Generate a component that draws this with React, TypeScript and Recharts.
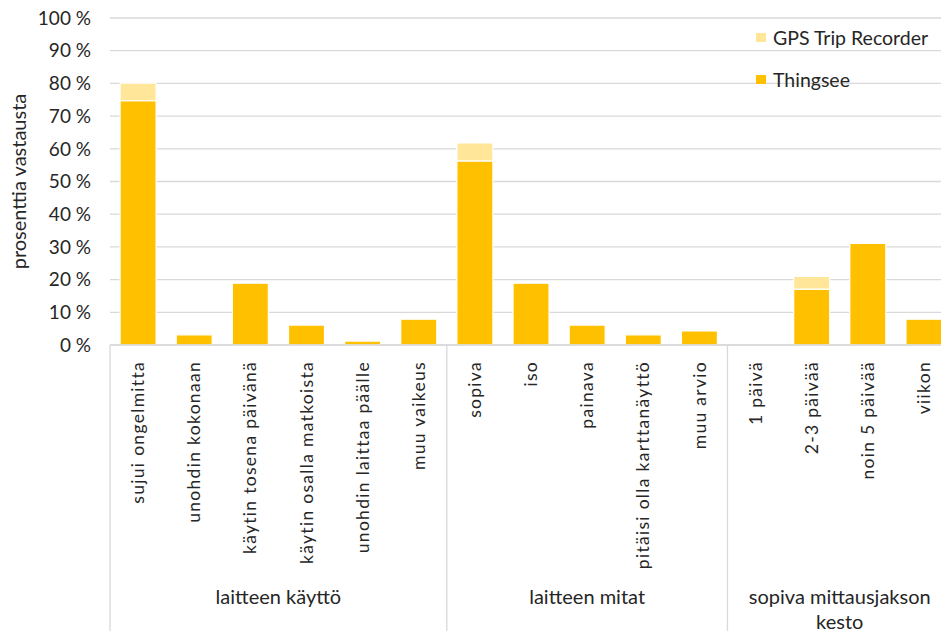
import React from 'react';
import { BarChart, Bar, XAxis, YAxis, CartesianGrid, Legend } from 'recharts';

const categories = [
  'sujui ongelmitta',
  'unohdin kokonaan',
  'käytin tosena päivänä',
  'käytin osalla matkoista',
  'unohdin laittaa päälle',
  'muu vaikeus',
  'sopiva',
  'iso',
  'painava',
  'pitäisi olla karttanäyttö',
  'muu arvio',
  '1 päivä',
  '2-3 päivää',
  'noin 5 päivää',
  'viikon',
];
// group labels, one entry per line
const groups = [['laitteen käyttö'], ['laitteen mitat'], ['sopiva mittausjakson', 'kesto']];
const groupIndex = [0, 0, 0, 0, 0, 0, 1, 1, 1, 1, 1, 2, 2, 2, 2];
const thingsee = [74.7, 3.1, 18.9, 6.1, 1.2, 7.9, 56.3, 18.9, 6.1, 3.1, 4.3, 0, 17.1, 31.1, 7.9];
const gpsTripRecorder = [5.4, 0, 0, 0, 0, 0, 5.5, 0, 0, 0, 0, 0, 3.9, 0, 0];
const yTicks = [0, 10, 20, 30, 40, 50, 60, 70, 80, 90, 100];

const data = categories.map((name, i) => ({
  name,
  Thingsee: thingsee[i],
  'GPS Trip Recorder': gpsTripRecorder[i],
}));

const FONT = 'Lato, "Open Sans", sans-serif';
const TEXT = '#262626';
const GRID = '#d9d9d9';
const AXIS_HEIGHT = 286;

const CategoryTick = (props: any) => {
  const { x, y, payload, index } = props;
  const half = payload?.offset ?? props.width / categories.length / 2;
  const step = half * 2;
  const g = groupIndex[index];
  const isFirst = index === 0 || groupIndex[index - 1] !== g;
  const isLast = index === categories.length - 1;
  const count = groupIndex.filter((v) => v === g).length;
  const left = x - half;
  return (
    <g>
      <text
        transform={`translate(${x},${y + 16}) rotate(-90)`}
        textAnchor="end"
        dy="0.35em"
        fill={TEXT}
        fontFamily={FONT}
        fontSize={17.5}
        letterSpacing={1.3}
      >
        {payload.value}
      </text>
      {isFirst && (
        <>
          <line x1={left} x2={left} y1={y} y2={y + AXIS_HEIGHT} stroke={GRID} strokeWidth={1.3} />
          <text
            x={left + (count * step) / 2}
            y={y + 259}
            textAnchor="middle"
            fill={TEXT}
            fontFamily={FONT}
            fontSize={20}
          >
            {groups[g].map((line, i) => (
              <tspan key={i} x={left + (count * step) / 2} dy={i === 0 ? 0 : 25}>
                {line}
              </tspan>
            ))}
          </text>
        </>
      )}
      {isLast && (
        <line x1={x + half} x2={x + half} y1={y} y2={y + AXIS_HEIGHT} stroke={GRID} strokeWidth={1.3} />
      )}
    </g>
  );
};

const LegendContent = ({ payload }: any) => (
  <ul style={{ listStyle: 'none', margin: 0, padding: 0, fontFamily: FONT, fontSize: 19.5, color: TEXT }}>
    {(payload ?? []).map((entry: any) => (
      <li key={entry.value} style={{ display: 'flex', alignItems: 'center', height: 42 }}>
        <span style={{ display: 'inline-block', width: 10, height: 9, background: entry.color, marginRight: 7 }} />
        <span>{entry.value}</span>
      </li>
    ))}
  </ul>
);

const YTitle = ({ viewBox }: any) => {
  const cy = viewBox.y + viewBox.height / 2;
  return (
    <text
      transform={`translate(19,${cy}) rotate(-90)`}
      textAnchor="middle"
      dy="0.35em"
      fill={TEXT}
      fontFamily={FONT}
      fontSize={20}
    >
      prosenttia vastausta
    </text>
  );
};

export default function App() {
  return (
    <div style={{ width: 941, height: 631, overflow: 'hidden' }}>
      <style>{'body{margin:0}'}</style>
      <BarChart
        width={941}
        height={631}
        data={data}
        margin={{ top: 18, right: -11, bottom: 0, left: 0 }}
        barCategoryGap="18%"
      >
        <CartesianGrid vertical={false} stroke={GRID} strokeWidth={1.3} />
        <XAxis
          dataKey="name"
          interval={0}
          height={AXIS_HEIGHT}
          tickLine={false}
          tickSize={0}
          tickMargin={0}
          axisLine={{ stroke: GRID, strokeWidth: 1.3 }}
          tick={<CategoryTick />}
        />
        <YAxis
          width={110}
          domain={[0, 100]}
          ticks={yTicks}
          tickFormatter={(v: number) => `${v} %`}
          axisLine={false}
          tickLine={false}
          tickSize={0}
          tickMargin={19}
          tick={{ fill: TEXT, fontFamily: FONT, fontSize: 19 }}
          label={<YTitle />}
        />
        <Legend
          layout="vertical"
          align="center"
          verticalAlign="middle"
          content={<LegendContent />}
          wrapperStyle={{ left: 756, top: 16, right: 'auto', bottom: 'auto', width: 'auto' }}
        />
        <Bar dataKey="Thingsee" stackId="a" fill="#FFC000" stroke="#ffffff" strokeWidth={1.2} isAnimationActive={false} />
        <Bar dataKey="GPS Trip Recorder" stackId="a" fill="#FFE699" stroke="#ffffff" strokeWidth={1.2} isAnimationActive={false} />
      </BarChart>
    </div>
  );
}
